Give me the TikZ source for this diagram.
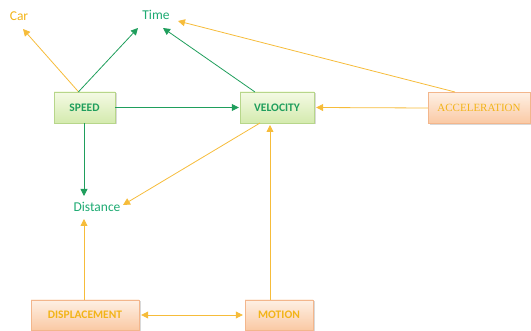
\documentclass[tikz,border=0pt]{standalone}
\usepackage{fontspec}
\setmainfont{Carlito}
\newfontfamily\serifacc{Liberation Serif}
\usetikzlibrary{arrows.meta,shadows,calc}
\definecolor{gline}{HTML}{1F9E5C}
\definecolor{gtext}{HTML}{1DAA72}
\definecolor{oline}{HTML}{F6BC3A}
\definecolor{otext}{HTML}{F2B418}
\definecolor{gfillA}{HTML}{F4FAE4}
\definecolor{gfillB}{HTML}{D4EAAE}
\definecolor{gborder}{HTML}{B7D68A}
\definecolor{ofillA}{HTML}{FEF0E4}
\definecolor{ofillB}{HTML}{FAC9A4}
\definecolor{oborder}{HTML}{F3B68C}
\tikzset{
  gbox/.style={draw=gborder, top color=gfillA, bottom color=gfillB, text=gline,
    font=\bfseries\fontsize{11.5}{12}\selectfont, inner sep=0pt, anchor=center,
    drop shadow={shadow xshift=1.5pt, shadow yshift=-1.5pt, fill=black!25, opacity=0.6}},
  obox/.style={draw=oborder, top color=ofillA, bottom color=ofillB, text=otext,
    font=\fontsize{11.5}{12}\selectfont, inner sep=0pt, anchor=center,
    drop shadow={shadow xshift=1.5pt, shadow yshift=-1.5pt, fill=black!25, opacity=0.6}},
  glabel/.style={text=gtext, font=\fontsize{13.5}{15}\selectfont, inner sep=1pt},
  olabel/.style={text=otext, font=\fontsize{13.5}{15}\selectfont, inner sep=1pt},
  garr/.style={draw=gline, line width=0.8pt, -{Triangle[length=7pt,width=7pt]}},
  oarr/.style={draw=oline, line width=0.8pt, -{Triangle[length=7pt,width=7pt]}},
  oarr2/.style={draw=oline, line width=0.8pt, {Triangle[length=7pt,width=7pt]}-{Triangle[length=7pt,width=7pt]}},
}
\begin{document}
\begin{tikzpicture}[x=1pt,y=-1pt]
\useasboundingbox (0,0) rectangle (531,331);
\node[olabel] (car) at (19,16) {Car};
\node[glabel] (time) at (156,15) {Time};
\node[glabel] (dist) at (97,207) {Distance};
\node[gbox, minimum width=61pt, minimum height=31pt] (speed) at (84.5,107.5) {SPEED};
\node[gbox, minimum width=74pt, minimum height=31pt] (vel) at (277,107.5) {VELOCITY};
\node[obox, minimum width=102pt, minimum height=31pt, font=\serifacc\fontsize{11}{12}\selectfont] (acc) at (479,108) {ACCELERATION};
\node[obox, minimum width=108pt, minimum height=30pt, font=\bfseries\fontsize{11.5}{12}\selectfont] (disp) at (85,315) {DISPLACEMENT};
\node[obox, minimum width=68pt, minimum height=30pt, font=\bfseries\fontsize{11.5}{12}\selectfont] (mot) at (279,315) {MOTION};
% anchor points
\coordinate (spTop) at ($(speed.north)+(-6,0)$);
\coordinate (carEnd) at (23,29);
\coordinate (timeL) at (138,28);
\coordinate (timeM) at (163,28);
\coordinate (timeR) at (178,21);
\coordinate (velTL) at (255,92);
\coordinate (accTop) at (455,92);
\coordinate (velBL) at (260,123);
\coordinate (distR) at (123,205);
\coordinate (distTop) at (84,196);
\coordinate (distBot) at (84,219);
\coordinate (dispTop) at (84,300);
\coordinate (spBot) at (84,123);
\coordinate (velBot) at (270,125);
\coordinate (motTop) at (270,300);
\draw[oarr] (spTop) -- (carEnd);
\draw[garr] (spTop) -- (timeL);
\draw[garr] (velTL) -- (timeM);
\draw[oarr] (accTop) -- (timeR);
\draw[garr] (speed.east) -- ([xshift=-1pt]vel.west);
\draw[oarr] (acc.west) -- ([xshift=2pt]vel.east);
\draw[garr] (spBot) -- (distTop);
\draw[oarr] (velBL) -- (distR);
\draw[oarr] (dispTop) -- (distBot);
\draw[oarr] (motTop) -- (velBot);
\draw[oarr2] ([xshift=2pt]disp.east) -- ([xshift=-2pt]mot.west);
\end{tikzpicture}
\end{document}
